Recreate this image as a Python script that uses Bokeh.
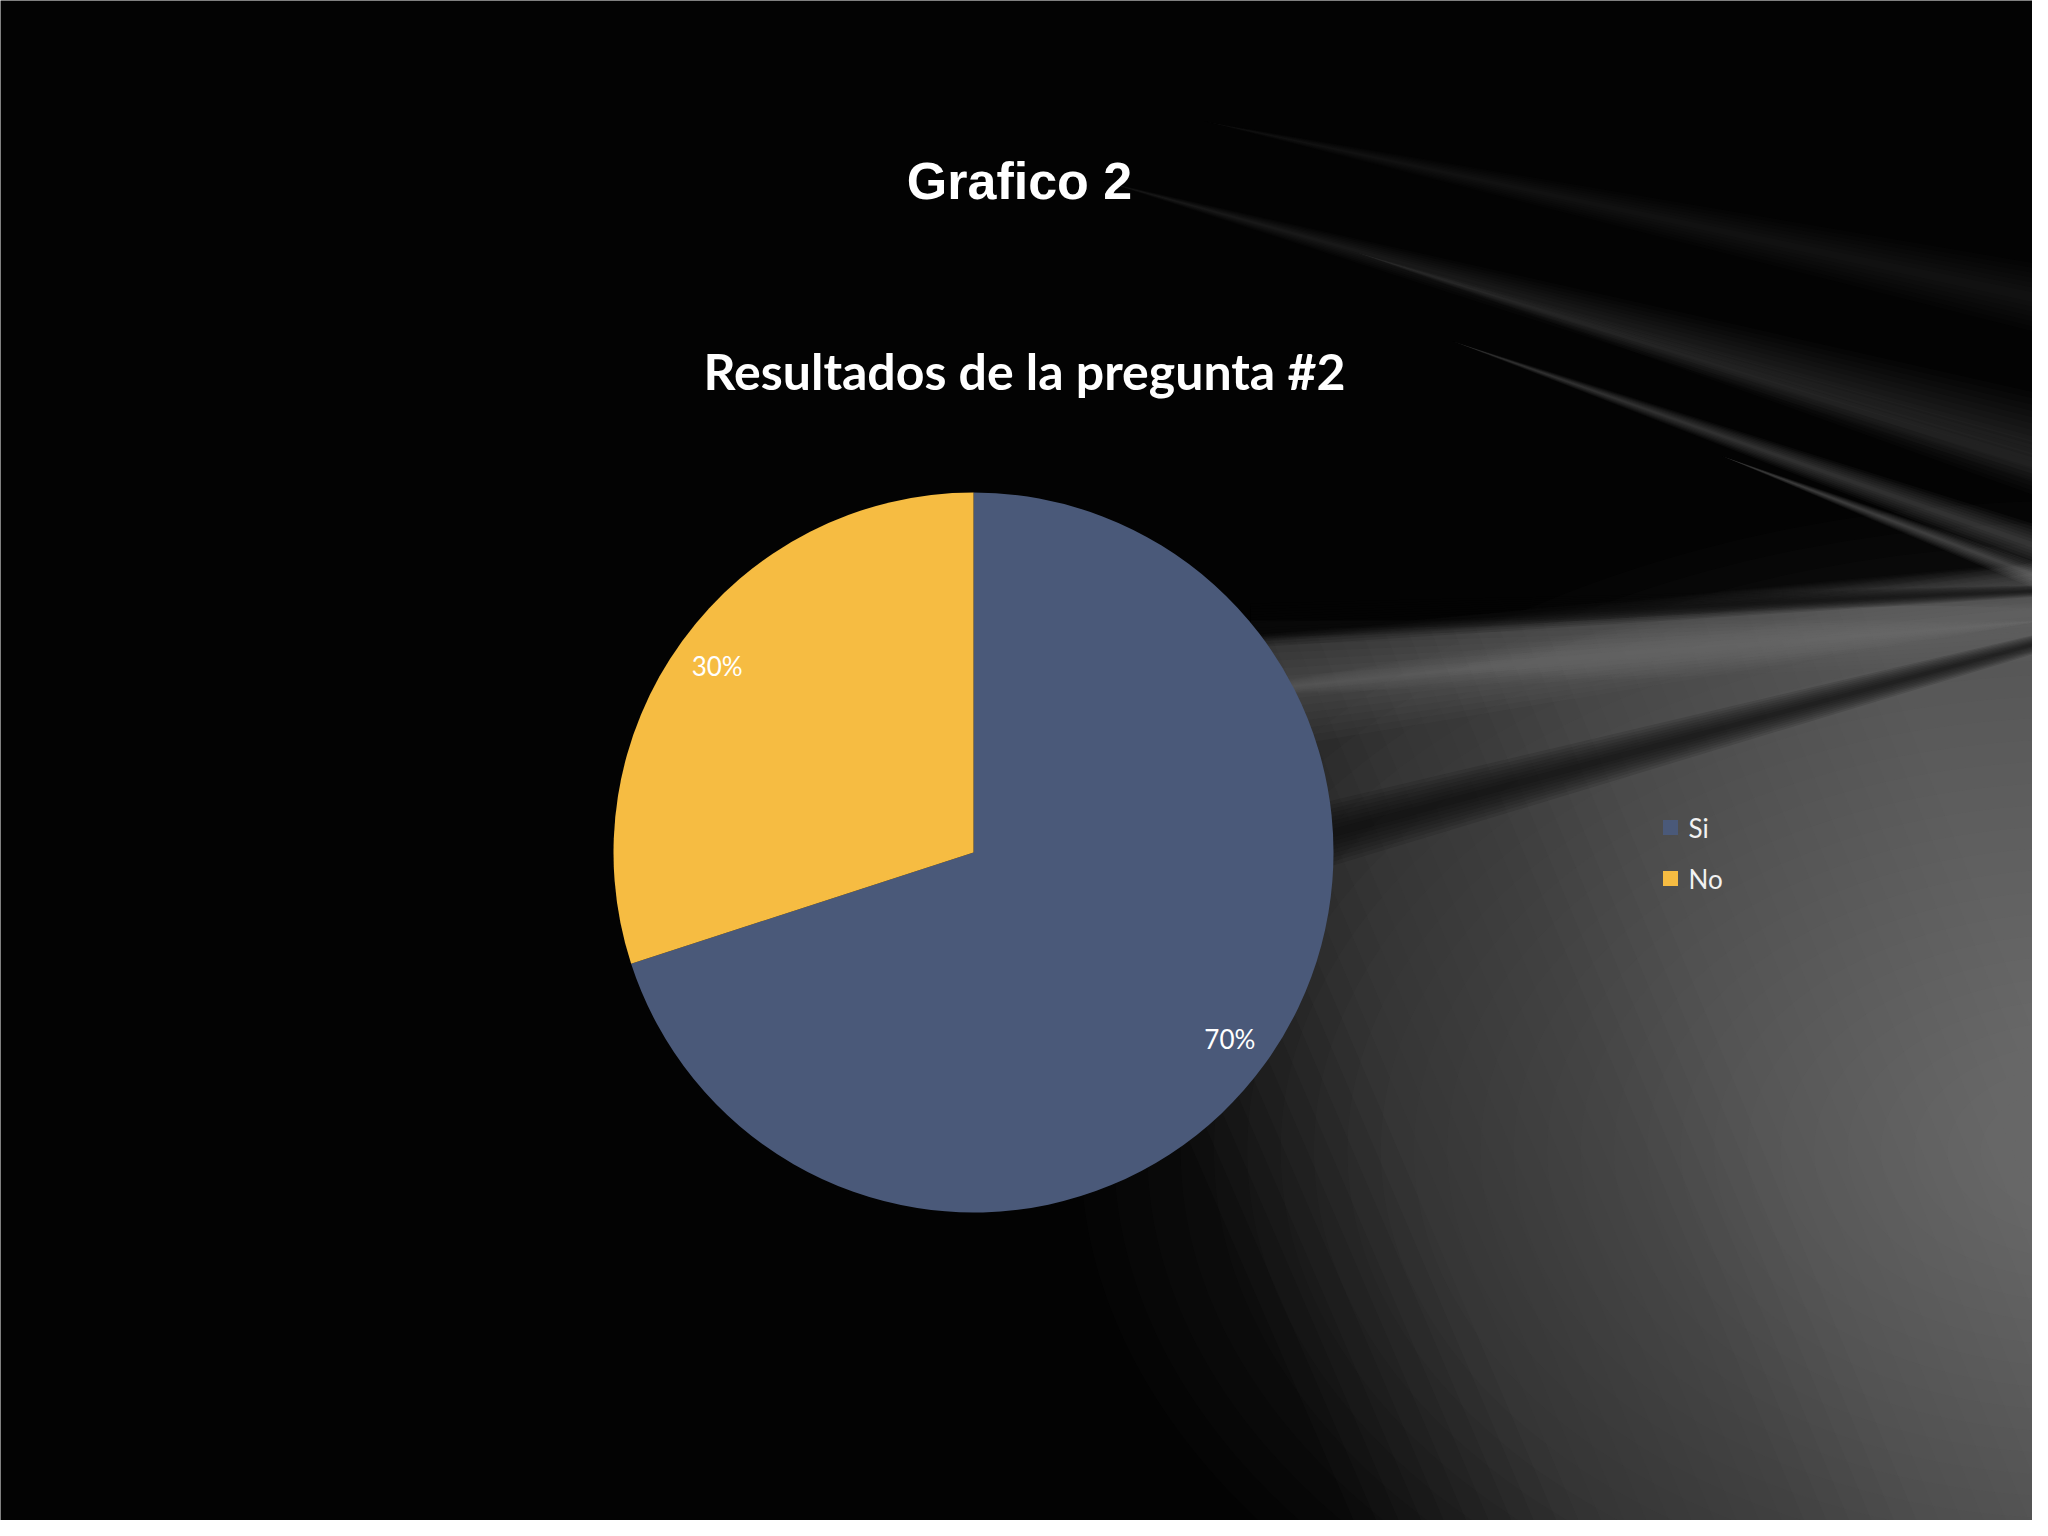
import numpy as np
from bokeh.plotting import figure
from bokeh.models import Range1d, ColumnDataSource
from bokeh.core.properties import value
from bokeh.embed import file_html
from bokeh.resources import INLINE

# ---- data ----
categories = ["Si", "No"]
values = [70, 30]
colors = ["#4A5979", "#F6BC42"]
title_text = "Grafico 2"
subtitle_text = "Resultados de la pregunta #2"

W, H = 2032, 1520
p = figure(width=W, height=H, x_range=Range1d(0, W), y_range=Range1d(0, H),
           output_backend="svg", toolbar_location=None, min_border=0)
p.axis.visible = False
p.grid.visible = False
p.outline_line_color = None
p.background_fill_color = "#030303"
p.border_fill_color = "#030303"

# helper: page pixel -> figure coords
def fx(px):
    return px

def fy(py):
    return 1520 - py

# ---- decorative background (grey haze + soft light streaks) ----
# grey "floor" fading in from the lower left
nl = 40
for k in range(nl):
    t = k / nl
    xl = 980 + t * 900
    ytl = 660 - t * 60
    p.patch(x=[fx(xl), fx(2048), fx(2048), fx(xl + 380)],
            y=[fy(ytl), fy(560 + t * 50), fy(1536), fy(1536)],
            fill_color="#858585", fill_alpha=0.03, line_color=None)
# lower-right haze
n = 30
for k in range(n):
    s = 1 - k / n
    p.ellipse(x=fx(2080), y=fy(1150), width=2000 * s, height=1300 * s, fill_color="#9a9a9a",
              fill_alpha=0.018, line_color=None)
# soft band above the dark streak
for k in range(10):
    w = 100 * (1 - k / 10)
    p.patch(x=[fx(1150), fx(2048), fx(2048)],
            y=[fy(700), fy(610 - w * 0.5), fy(610 + w * 0.5)],
            fill_color="#8a8a8a", fill_alpha=0.04, line_color=None)
for k in range(8):
    w = 70 * (1 - k / 8)
    p.patch(x=[fx(1200), fx(1200), fx(2048)],
            y=[fy(690 - w), fy(690 + w), fy(620)],
            fill_color="#8a8a8a", fill_alpha=0.045, line_color=None)
# dark streaks converging to the right
dark = [(1230, 860, 2048, 640, 36), (1250, 625, 2048, 590, 22)]
for x1, y1, x2, y2, w in dark:
    for k in range(8):
        ww = w * (1 - k / 8)
        p.patch(x=[fx(x1), fx(x2), fx(x2), fx(x1)],
                y=[fy(y1 - ww), fy(y2 - ww * 0.25), fy(y2 + ww * 0.25), fy(y1 + ww)],
                fill_color="#050505", fill_alpha=0.12, line_color=None)
# upper light streaks (tapered)
upper = [(1100, 180, 2048, 440, 45, 0.020), (1200, 120, 2048, 300, 35, 0.015),
         (1450, 340, 2048, 550, 22, 0.045), (1720, 455, 2048, 580, 14, 0.05),
         (1350, 250, 2048, 470, 30, 0.02)]
for x1, y1, x2, y2, w, a in upper:
    for k in range(7):
        ww = w * (1 - k / 7)
        p.patch(x=[fx(x1), fx(x2), fx(x2)],
                y=[fy(y1), fy(y2 - ww), fy(y2 + ww)],
                fill_color="#c0c0c0", fill_alpha=a, line_color=None)

# ---- pie ----
cx, cy, R = fx(973), fy(852), 360
vals = np.array(values, dtype=float)
frac = vals / vals.sum()
cum = np.concatenate([[0], np.cumsum(frac)])
# clockwise from 12 o'clock
ends = np.pi / 2 - cum[:-1] * 2 * np.pi
starts = np.pi / 2 - cum[1:] * 2 * np.pi
src = ColumnDataSource(dict(start=starts, end=ends, color=colors))
p.wedge(x=cx, y=cy, radius=R, start_angle="start", end_angle="end",
        fill_color="color", line_color=None, source=src)

mid = (starts + ends) / 2
lab = ColumnDataSource(dict(x=cx + 0.88 * R * np.cos(mid), y=cy + 0.88 * R * np.sin(mid),
                            t=[f"{v:.0f}%" for v in frac * 100]))
p.text(x="x", y="y", text="t", source=lab, text_color="white", text_font=value("Lato"),
       text_font_size="26px", text_align="center", text_baseline="middle")

# ---- titles ----
p.text(x=[fx(1019)], y=[fy(180)], text=[title_text], text_color="white",
       text_font=value("Liberation Sans"), text_font_style="bold", text_font_size="52px",
       text_align="center", text_baseline="middle")
p.text(x=[fx(1024)], y=[fy(370)], text=[subtitle_text], text_color="white",
       text_font=value("Lato"), text_font_style="bold", text_font_size="50px",
       text_align="center", text_baseline="middle")

# ---- legend ----
ly = [fy(827) - 51 * i for i in range(len(categories))]
p.rect(x=[fx(1670)] * len(categories), y=ly, width=15, height=15, fill_color=colors, line_color=None)
p.text(x=[fx(1688)] * len(categories), y=ly, text=categories, text_color="#f2f2f2",
       text_font=value("Lato"), text_font_size="26px", text_align="left", text_baseline="middle")

open("out.html", "w").write(file_html(p, INLINE))
